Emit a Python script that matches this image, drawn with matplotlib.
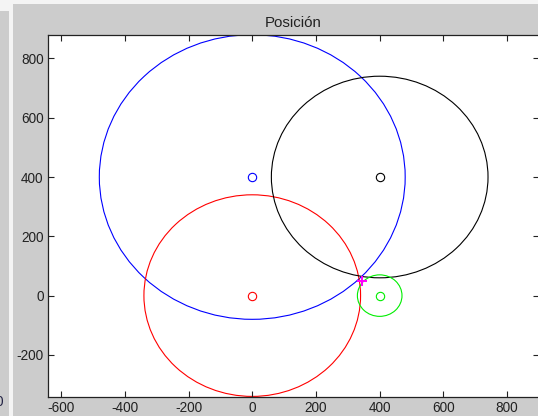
import matplotlib
matplotlib.use("Agg")
import matplotlib.pyplot as plt
from matplotlib.patches import Circle, Rectangle

plt.rcParams['font.family'] = ['Liberation Sans', 'DejaVu Sans']
plt.rcParams['axes.unicode_minus'] = False

# centros y radios de las circunferencias
centros_x = [0, 0, 400, 400]
centros_y = [400, 0, 400, 0]
radios = [480, 340, 340, 70]
colores = ['#0000ff', '#ff0000', '#000000', '#00ee00']

# punto estimado
estim_x = [345]
estim_y = [48]

xticks = [-600, -400, -200, 0, 200, 400, 600, 800]
yticks = [-200, 0, 200, 400, 600, 800]

W, H = 538, 416
fig = plt.figure(figsize=(W / 100, H / 100), dpi=100, facecolor='#f4f4f4')

# fondo gris de la ventana (captura de pantalla)
fig.patches.append(Rectangle((0, 0), 8.5 / W, (H - 11) / H, transform=fig.transFigure,
                             facecolor='#cccccc', edgecolor='none', zorder=-10))
fig.patches.append(Rectangle((13 / W, 0), 1, (H - 3.5) / H, transform=fig.transFigure,
                             facecolor='#cccccc', edgecolor='none', zorder=-10))

ax = fig.add_axes([47.7 / W, 19 / H, (539 - 47.7) / W, (397 - 35) / H])
ax.set_facecolor('white')

for cx, cy, r, c in zip(centros_x, centros_y, radios, colores):
    ax.add_patch(Circle((cx, cy), r, fill=False, edgecolor=c, linewidth=0.8))
    ax.plot(cx, cy, 'o', color=c, mfc='none', markersize=6, mew=0.8)

ax.plot(estim_x, estim_y, '+', color='#ff00ff', markersize=7, mew=1.4)

ax.set_xlim(-642, 900)
ax.set_ylim(-342, 879)
ax.set_xticks(xticks)
ax.set_yticks(yticks)
ax.tick_params(direction='in', top=True, right=True, length=4, width=0.8,
               labelsize=9.8, colors='#222222')
ax.tick_params(axis='x', pad=3)
ax.tick_params(axis='y', pad=3)
for s in ax.spines.values():
    s.set_linewidth(0.9)
    s.set_color('#222222')

ax.set_title('Posición', fontsize=10.8, color='#222222', pad=6)

# resto de una etiqueta de otra ventana
fig.text(3.5 / W, (H - 402) / H, '0', ha='right', va='center', fontsize=9.8, color='#222244')

fig.savefig('out.png', dpi=100, facecolor=fig.get_facecolor())
